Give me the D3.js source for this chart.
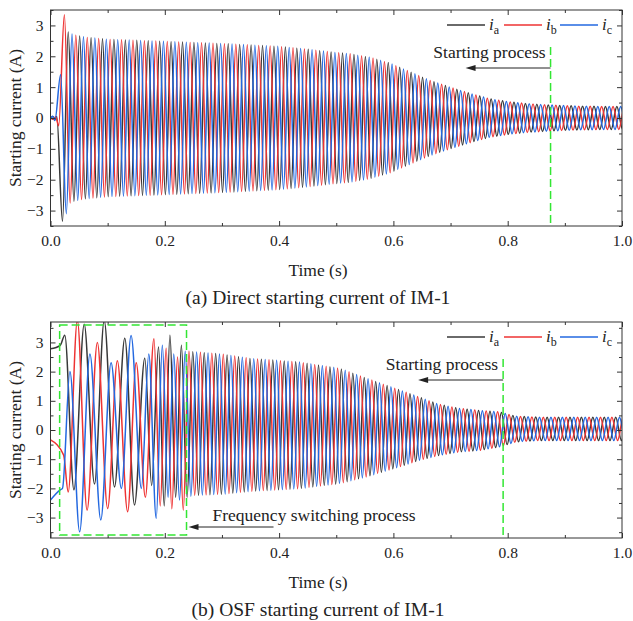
<!DOCTYPE html>
<html>
<head>
<meta charset="utf-8">
<script src="https://cdn.jsdelivr.net/npm/d3@7"></script>
<style>
  body { margin: 0; background: #fff; }
  svg { display: block; }
  text { font-family: "Liberation Serif", "Times New Roman", serif; fill: #222; }
</style>
</head>
<body>
<svg id="chart" width="633" height="621"></svg>
<script>
// ---- data ----
const xMajor = [0, 0.2, 0.4, 0.6, 0.8, 1.0];
const xMinor = [0.1, 0.3, 0.5, 0.7, 0.9];
const yMajor = [-3, -2, -1, 0, 1, 2, 3];
const yMinor = [-3.5, -2.5, -1.5, -0.5, 0.5, 1.5, 2.5, 3.5];
const phases = ["a", "b", "c"];
const colors = ["#383838", "#ee3333", "#2368e0"];
const period = 0.02;           // 50 Hz supply
const phaseShift = [0, 2 / 3, 1 / 3]; // of a period, peaks order a -> c -> b

// (a) direct start: first extrema of each phase (t, A)
const directStartA = [[0, 0], [0.004, 0.05], [0.008, -0.05], [0.011, 0.05], [0.021, -3.35]];
const directStartB = [[0, 0], [0.005, -0.05], [0.009, 0.04], [0.0143, -0.25], [0.0243, 3.35]];
const directStartC = [[0, 0], [0.004, 0.06], [0.0077, -0.08], [0.0177, 1.4], [0.0277, -3.1]];
const directFirstPeak = 0.011;
// (a) peak amplitude envelope
const directEnvT = [0.03, 0.04, 0.06, 0.1, 0.175, 0.315, 0.4, 0.455, 0.49, 0.524, 0.559, 0.594, 0.629, 0.664, 0.699, 0.734, 0.769, 0.804, 0.839, 0.874, 0.93, 1.0];
const directEnvA = [2.8, 2.7, 2.62, 2.55, 2.5, 2.4, 2.32, 2.22, 2.14, 2.08, 1.97, 1.78, 1.5, 1.22, 1.0, 0.8, 0.62, 0.52, 0.46, 0.42, 0.38, 0.37];

// (b) OSF start: extrema during the frequency switching (t, A)
const osfStartA = [[0, 2.78], [0.017, 2.9], [0.025, 3.25], [0.041, -2.05], [0.059, 3.62], [0.077, -1.85], [0.094, 3.75], [0.112, -1.95], [0.13, 3.14], [0.147, -2.57], [0.165, 2.46], [0.177, -1.9], [0.189, 2.84], [0.199, -2.6], [0.209, 3.25], [0.219, -2.3], [0.229, 2.9], [0.239, -2.3]];
const osfStartB = [[0, -0.34], [0.023, -0.86], [0.031, -2.12], [0.047, 3.75], [0.064, -2.75], [0.082, 3.0], [0.1, -2.69], [0.117, 2.37], [0.135, -2.8], [0.15, 2.3], [0.166, -2.3], [0.181, 3.13], [0.192, -2.6], [0.2023, 2.8], [0.2123, -2.7], [0.2223, 2.5], [0.2323, -2.75]];
const osfStartC = [[0, -2.4], [0.017, -2.05], [0.021, -2.0], [0.034, 2.0], [0.051, -3.49], [0.069, 2.6], [0.088, -3.08], [0.106, 2.3], [0.124, -2.0], [0.141, 3.24], [0.159, -2.0], [0.172, 2.6], [0.185, -3.03], [0.1957, 2.9], [0.2057, -2.3], [0.2157, 2.6], [0.2257, -2.4], [0.2357, 2.7]];
const osfFirstPeak = 0.009;
// (b) envelope after switching (upper / lower)
const osfEnvT = [0.24, 0.25, 0.3, 0.35, 0.435, 0.505, 0.552, 0.61, 0.645, 0.68, 0.715, 0.75, 0.785, 0.814, 0.855, 0.9, 1.0];
const osfEnvUp = [2.7, 2.68, 2.6, 2.45, 2.33, 2.12, 1.78, 1.38, 1.13, 0.88, 0.74, 0.67, 0.62, 0.47, 0.44, 0.44, 0.44];
const osfEnvDown = [2.3, 2.24, 2.2, 2.1, 2.01, 1.84, 1.61, 1.27, 1.04, 0.87, 0.75, 0.70, 0.58, 0.41, 0.36, 0.36, 0.36];

// ---- helpers ----
function envAt(ts, vs, t) {
  if (t <= ts[0]) return vs[0];
  for (let i = 1; i < ts.length; i++) {
    if (t <= ts[i]) {
      let f = (t - ts[i - 1]) / (ts[i] - ts[i - 1]);
      return vs[i - 1] + f * (vs[i] - vs[i - 1]);
    }
  }
  return vs[vs.length - 1];
}

// continue the read extrema with the 50 Hz peaks of the envelope
function buildPhase(start, firstPeak, envT, envUp, envDown) {
  let pts = start.map(d => ({ t: d[0], v: d[1] }));
  let last = pts[pts.length - 1].t;
  for (let k = 0; ; k++) {
    let t = firstPeak + k * period / 2;
    if (t > 1.02) break;
    if (t <= last + 0.002) continue;
    let v = (k % 2 == 0) ? envAt(envT, envUp, t) : -envAt(envT, envDown, t);
    pts.push({ t, v });
  }
  return pts;
}

const svg = d3.select("#chart");
const titleX = 318;

function panel(cfg) {
  let x = d3.scaleLinear().domain([0, 1]).range([cfg.left, cfg.right]);
  let y = d3.scaleLinear().domain(cfg.yDomain).range([cfg.bottom, cfg.top]);
  let g = svg.append("g");

  let clipId = "clip-" + cfg.id;
  svg.append("clipPath").attr("id", clipId)
    .append("rect")
    .attr("x", cfg.left).attr("y", cfg.top)
    .attr("width", cfg.right - cfg.left).attr("height", cfg.bottom - cfg.top);

  let line = d3.line()
    .x(d => x(d.t))
    .y(d => y(d.v))
    .curve(d3.curveMonotoneX);

  let lines = g.append("g").attr("clip-path", "url(#" + clipId + ")");
  cfg.series.forEach((s, i) => {
    lines.append("path")
      .datum(s)
      .attr("fill", "none")
      .attr("stroke", colors[i])
      .attr("stroke-width", 1.5)
      .attr("stroke-linejoin", "round")
      .attr("d", line);
  });

  // axes, ticks pointing inward on every side
  let axes = [
    [d3.axisBottom(x), "translate(0," + cfg.bottom + ")", xMajor, xMinor, true],
    [d3.axisTop(x), "translate(0," + cfg.top + ")", xMajor, xMinor, false],
    [d3.axisLeft(y), "translate(" + cfg.left + ",0)", yMajor, yMinor, true],
    [d3.axisRight(y), "translate(" + cfg.right + ",0)", yMajor, yMinor, false]
  ];
  axes.forEach(([ax, tr, major, minor, labels], i) => {
    let fmt = i < 2 ? d3.format(".1f") : d3.format("d");
    let a = g.append("g").attr("transform", tr)
      .call(ax.tickValues(major).tickSize(-5).tickPadding(i < 2 ? 9 : 7)
        .tickFormat(labels ? fmt : ""));
    a.select(".domain").remove();
    a.selectAll("line").attr("stroke", "#333");
    a.selectAll("text").attr("font-size", 15.5).attr("fill", "#222")
      .attr("font-family", "Liberation Serif, serif");
    let m = g.append("g").attr("transform", tr)
      .call(ax.tickValues(minor).tickSize(-3).tickFormat(""));
    m.select(".domain").remove();
    m.selectAll("line").attr("stroke", "#333");
  });

  g.append("rect")
    .attr("x", cfg.left).attr("y", cfg.top)
    .attr("width", cfg.right - cfg.left).attr("height", cfg.bottom - cfg.top)
    .attr("fill", "none").attr("stroke", "#333").attr("stroke-width", 1);

  // axis titles and caption
  g.append("text")
    .attr("transform", "translate(" + 21 + "," + ((cfg.top + cfg.bottom) / 2) + ") rotate(-90)")
    .attr("text-anchor", "middle").attr("font-size", 17.5)
    .text("Starting current (A)");
  g.append("text")
    .attr("x", titleX).attr("y", cfg.bottom + 50)
    .attr("text-anchor", "middle").attr("font-size", 17.5)
    .text("Time (s)");
  g.append("text")
    .attr("x", titleX).attr("y", cfg.bottom + 78)
    .attr("text-anchor", "middle").attr("font-size", 19.5)
    .text(cfg.caption);

  // legend
  let legY = cfg.top + 15;
  let legX = [447, 504, 560];
  phases.forEach((p, i) => {
    g.append("line")
      .attr("x1", legX[i]).attr("x2", legX[i] + 38)
      .attr("y1", legY).attr("y2", legY)
      .attr("stroke", colors[i]).attr("stroke-width", 1.5);
    let t = g.append("text")
      .attr("x", legX[i] + 42).attr("y", legY + 5)
      .attr("font-size", 17);
    t.append("tspan").attr("font-style", "italic").text("i");
    t.append("tspan").attr("font-size", 12).attr("dy", 4).text(p);
  });

  // end of starting process
  let gx = x(cfg.endStart);
  g.append("line")
    .attr("x1", gx).attr("x2", gx)
    .attr("y1", cfg.top + 37).attr("y2", cfg.bottom)
    .attr("stroke", "#33e633").attr("stroke-width", 1.5)
    .attr("stroke-dasharray", "8,4");
  g.append("text")
    .attr("x", gx - 5).attr("y", cfg.top + 48)
    .attr("text-anchor", "end").attr("font-size", 17.5)
    .text("Starting process");
  arrow(g, gx, gx - 85, cfg.top + 58);

  if (cfg.box) {
    let [t0, t1, v0, v1] = cfg.box;
    g.append("rect")
      .attr("x", x(t0)).attr("y", y(v1))
      .attr("width", x(t1) - x(t0)).attr("height", y(v0) - y(v1))
      .attr("fill", "none").attr("stroke", "#33e633").attr("stroke-width", 1.5)
      .attr("stroke-dasharray", "8,4");
    g.append("text")
      .attr("x", x(t1) + 26).attr("y", cfg.bottom - 17)
      .attr("font-size", 17.5)
      .text("Frequency switching process");
    arrow(g, x(t1) + 87, x(t1) + 2, cfg.bottom - 11);
  }
}

function arrow(g, xFrom, xTo, yy) {
  g.append("line")
    .attr("x1", xFrom).attr("x2", xTo + 6)
    .attr("y1", yy).attr("y2", yy)
    .attr("stroke", "#222").attr("stroke-width", 1);
  g.append("path")
    .attr("d", "M" + xTo + "," + yy + "l10,-3l0,6z")
    .attr("fill", "#222");
}

panel({
  id: "a", left: 50.5, right: 622, top: 10, bottom: 226, yDomain: [-3.5, 3.5],
  caption: "(a) Direct starting current of IM-1",
  endStart: 0.875,
  series: [
    buildPhase(directStartA, directFirstPeak + phaseShift[0] * period, directEnvT, directEnvA, directEnvA),
    buildPhase(directStartB, directFirstPeak + phaseShift[1] * period, directEnvT, directEnvA, directEnvA),
    buildPhase(directStartC, directFirstPeak + phaseShift[2] * period, directEnvT, directEnvA, directEnvA)
  ]
});

panel({
  id: "b", left: 50.5, right: 622, top: 322, bottom: 538, yDomain: [-3.7, 3.7],
  caption: "(b) OSF starting current of IM-1",
  endStart: 0.792,
  box: [0.016, 0.238, -3.6, 3.6],
  series: [
    buildPhase(osfStartA, osfFirstPeak + phaseShift[0] * period, osfEnvT, osfEnvUp, osfEnvDown),
    buildPhase(osfStartB, osfFirstPeak + phaseShift[1] * period, osfEnvT, osfEnvUp, osfEnvDown),
    buildPhase(osfStartC, osfFirstPeak + phaseShift[2] * period, osfEnvT, osfEnvUp, osfEnvDown)
  ]
});
</script>
</body>
</html>
